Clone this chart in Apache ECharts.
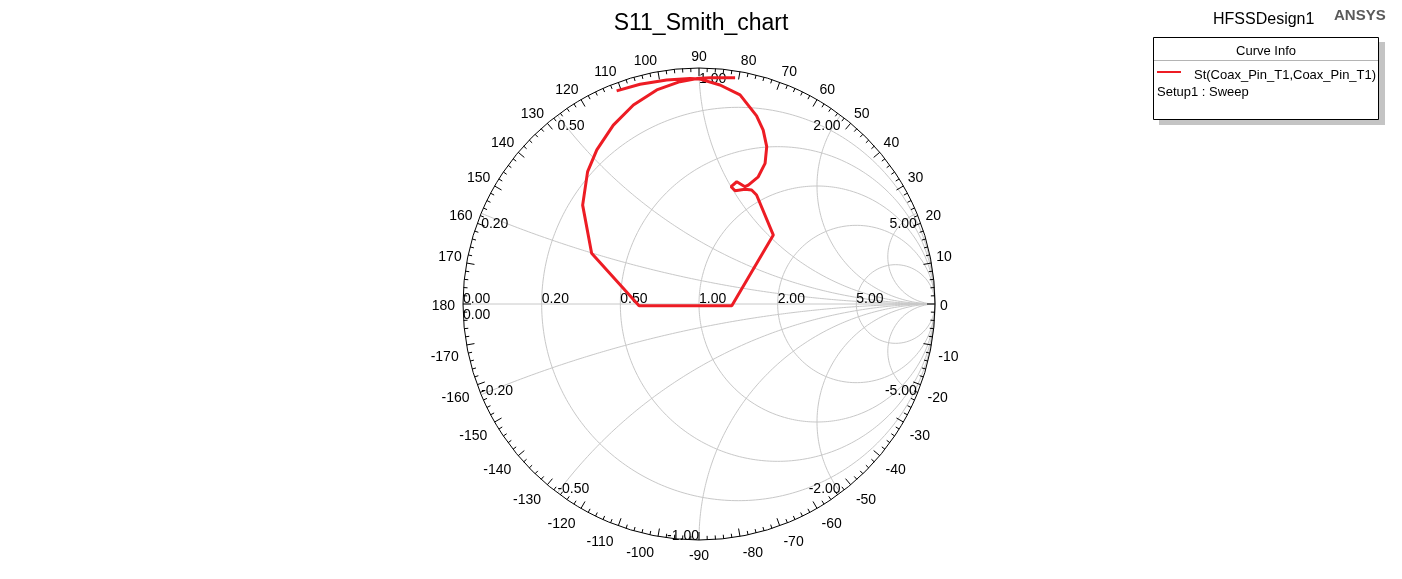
<!DOCTYPE html>
<html><head><meta charset="utf-8">
<script src="https://cdn.jsdelivr.net/npm/echarts@6/dist/echarts.min.js"></script>
<style>html,body{margin:0;padding:0;background:#fff}#c{width:1402px;height:579px}</style>
</head><body><div id="c"></div>
<script>
const FONT = '"Liberation Sans", Arial, Helvetica, sans-serif';

const s11Re = [-0.349, -0.250, -0.137, -0.038, 0.004, 0.089, 0.174, 0.244, 0.272, 0.287, 0.280, 0.251, 0.209,
  0.195, 0.160, 0.136, 0.153, 0.195, 0.223, 0.244, 0.315, 0.139, -0.254, -0.455, -0.493, -0.472, -0.433,
  -0.363, -0.278, -0.179, -0.081, -0.008, 0.047, 0.153];
const s11Im = [0.903, 0.931, 0.949, 0.956, 0.953, 0.928, 0.886, 0.797, 0.737, 0.667, 0.596, 0.539, 0.504,
  0.497, 0.518, 0.497, 0.480, 0.486, 0.483, 0.462, 0.292, -0.007, -0.007, 0.215, 0.419, 0.561, 0.653,
  0.758, 0.843, 0.907, 0.942, 0.955, 0.959, 0.959];

// Smith chart grid values
const resistanceValues = [0.2, 0.5, 1, 2, 5];
const reactanceValues = [0.2, 0.5, 1, 2, 5];
const resistanceLabels = [0, 0.2, 0.5, 1, 2, 5];
const reactanceLabels = [0, 0.2, 0.5, 1, 2, 5, -0.2, -0.5, -1, -2, -5];
// angle (degrees) tick labels around the rim
const angleLabels = [0, 10, 20, 30, 40, 50, 60, 70, 80, 90, 100, 110, 120, 130, 140, 150, 160, 170, 180,
  -170, -160, -150, -140, -130, -120, -110, -100, -90, -80, -70, -60, -50, -40, -30, -20, -10];

const GRID_COLOR = '#c8c8c8';
const R_PX = 236;

function resistanceCircle(r) {
  const c = r / (1 + r), a = 1 / (1 + r), pts = [];
  for (let i = 0; i <= 360; i++) {
    const t = i * Math.PI / 180;
    pts.push([c + a * Math.cos(t), a * Math.sin(t)]);
  }
  return pts;
}
function gammaOf(r, x) {
  const d = (r + 1) * (r + 1) + x * x;
  return [(r * r + x * x - 1) / d, 2 * x / d];
}
function reactanceArc(x) {
  const pts = [];
  for (let i = 0; i < 400; i++) {
    const r = Math.tan(i / 400 * Math.PI / 2);
    pts.push(gammaOf(r, x));
  }
  pts.push([1, 0]);
  return pts;
}

const series = [];
resistanceValues.forEach(r => series.push({
  type: 'line', data: resistanceCircle(r), showSymbol: false, silent: true, clip: false, z: 1,
  lineStyle: { color: GRID_COLOR, width: 1 }
}));
reactanceValues.forEach(x => [x, -x].forEach(v => series.push({
  type: 'line', data: reactanceArc(v), showSymbol: false, silent: true, clip: false, z: 1,
  lineStyle: { color: GRID_COLOR, width: 1 }
})));
series.push({
  type: 'line', data: [[-1, 0], [1, 0]], showSymbol: false, silent: true, clip: false, z: 1,
  lineStyle: { color: GRID_COLOR, width: 1 }
});

// grid labels
const labelSpecs = [];
resistanceLabels.forEach(r => {
  const p = gammaOf(r, 0);
  labelSpecs.push({ x: p[0], y: 0, text: r.toFixed(2), align: 'left', va: 'bottom', dx: 0, dy: 2, size: 14 });
});
reactanceLabels.forEach(x => {
  const p = gammaOf(0, x);
  if (x >= 0) {
    labelSpecs.push({ x: p[0], y: p[1], text: x.toFixed(2), align: x <= 1 ? 'left' : 'right', va: 'top', dx: 0, dy: 4, size: 14 });
  } else {
    labelSpecs.push({ x: p[0], y: p[1], text: x.toFixed(2), align: Math.abs(x) < 1 ? 'left' : 'right', va: 'bottom', dx: 0, dy: 3, size: 14 });
  }
});
// rim angle labels
const LABEL_K = (R_PX + 5) / R_PX;
angleLabels.forEach(a => {
  const t = a * Math.PI / 180;
  let align, dx = 0, dy;
  if (a === 0) { align = 'left'; dy = 2; }
  else if (a === 180) { align = 'right'; dx = -3; dy = 2; }
  else if (a > 0) { dy = -5.5; align = a === 90 ? 'center' : (a < 90 ? 'left' : 'right'); }
  else {
    dy = 11.5;
    if (a === -90) align = 'center';
    else if (a > -90) { align = 'left'; dx = 2; }
    else { align = 'right'; dx = -3; }
  }
  labelSpecs.push({ x: LABEL_K * Math.cos(t), y: LABEL_K * Math.sin(t), text: String(a), align: align, va: 'middle', dx: dx, dy: dy, size: 14 });
});

series.push({
  type: 'custom', coordinateSystem: 'cartesian2d', silent: true, z: 3,
  data: labelSpecs.map(s => [s.x, s.y]),
  renderItem: function (params, api) {
    const s = labelSpecs[params.dataIndex];
    const p = api.coord([s.x, s.y]);
    return {
      type: 'text', x: p[0] + s.dx, y: p[1] + s.dy,
      style: { text: s.text, fill: '#000', font: s.size + 'px ' + FONT, align: s.align, verticalAlign: s.va }
    };
  }
});

// S11 curve
series.push({
  type: 'line', name: 'St(Coax_Pin_T1,Coax_Pin_T1)',
  data: s11Re.map((v, i) => [v, s11Im[i]]),
  showSymbol: false, clip: false, z: 5, smooth: false,
  lineStyle: { color: '#ed1c24', width: 3 }
});

const chart = echarts.init(document.getElementById('c'), null, { renderer: 'canvas' });
chart.setOption({
  animation: false,
  backgroundColor: '#fff',
  title: {
    text: 'S11_Smith_chart', left: 'center', top: 7,
    textStyle: { fontSize: 23, fontWeight: 'normal', color: '#000', fontFamily: FONT }
  },
  grid: { left: 463, top: 68, width: 472, height: 472 },
  xAxis: { type: 'value', min: -1, max: 1, show: false },
  yAxis: { type: 'value', min: -1, max: 1, show: false },
  polar: { center: [699, 304], radius: R_PX },
  angleAxis: {
    type: 'value', min: 0, max: 360, interval: 10, startAngle: 0, clockwise: false, z: 4,
    axisLine: { lineStyle: { color: '#000', width: 1 } },
    axisTick: { inside: true, length: 8, lineStyle: { color: '#000', width: 1 } },
    minorTick: { show: true, splitNumber: 5, length: 4, lineStyle: { color: '#000', width: 1 } },
    splitLine: { show: false },
    axisLabel: { show: false }
  },
  radiusAxis: { show: false, min: 0, max: 1 },
  graphic: [
    { type: 'rect', shape: { x: 1159, y: 42, width: 226, height: 83 }, style: { fill: '#c4c4c4' }, z: 10 },
    { type: 'rect', shape: { x: 1153.5, y: 37.5, width: 225, height: 82 }, style: { fill: '#fff', stroke: '#000', lineWidth: 1 }, z: 11 },
    { type: 'line', shape: { x1: 1154, y1: 60.5, x2: 1378, y2: 60.5 }, style: { stroke: '#b4b4b4', lineWidth: 1 }, z: 12 },
    { type: 'text', x: 1266, y: 51, style: { text: 'Curve Info', font: '13px ' + FONT, fill: '#000', align: 'center', verticalAlign: 'middle' }, z: 12 },
    { type: 'line', shape: { x1: 1157, y1: 72, x2: 1181, y2: 72 }, style: { stroke: '#ed1c24', lineWidth: 2 }, z: 12 },
    { type: 'text', x: 1194, y: 75, style: { text: 'St(Coax_Pin_T1,Coax_Pin_T1)', font: '13px ' + FONT, fill: '#000', align: 'left', verticalAlign: 'middle' }, z: 12 },
    { type: 'text', x: 1157, y: 92, style: { text: 'Setup1 : Sweep', font: '13px ' + FONT, fill: '#000', align: 'left', verticalAlign: 'middle' }, z: 12 },
    { type: 'text', x: 1213, y: 20, style: { text: 'HFSSDesign1', font: '16px ' + FONT, fill: '#000', align: 'left', verticalAlign: 'middle' }, z: 12 },
    { type: 'text', x: 1334, y: 16, style: { text: 'ANSYS', font: 'bold 15px ' + FONT, fill: '#5a5a5a', align: 'left', verticalAlign: 'middle' }, z: 12 }
  ],
  series: series
});
</script>
</body></html>
